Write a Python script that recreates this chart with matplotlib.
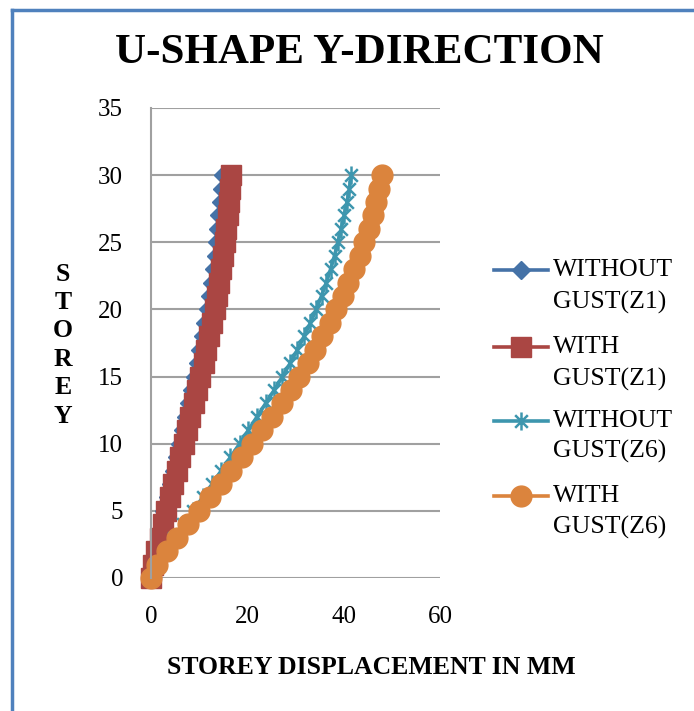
import matplotlib
matplotlib.use('Agg')
import matplotlib.pyplot as plt
from matplotlib.lines import Line2D
from matplotlib.path import Path
import numpy as np

# storey numbers and displacements (mm)
storey = list(range(0, 31))
without_gust_z1 = [0, 0.4, 1.0, 1.6, 2.2, 2.8, 3.5, 4.1, 4.7, 5.3, 6.0, 6.7, 7.3, 7.9, 8.5,
                   9.1, 9.7, 10.2, 10.8, 11.3, 11.8, 12.2, 12.6, 13.0, 13.4, 13.7, 14.0,
                   14.2, 14.5, 14.7, 14.9]
with_gust_z1 = [0, 0.5, 1.1, 1.8, 2.5, 3.2, 3.9, 4.6, 5.3, 6.0, 6.8, 7.5, 8.2, 8.9, 9.6,
                10.2, 10.9, 11.5, 12.1, 12.7, 13.2, 13.7, 14.2, 14.6, 15.0, 15.3, 15.6,
                15.9, 16.2, 16.4, 16.6]
without_gust_z6 = [0, 1.0, 2.9, 4.8, 6.7, 8.8, 10.7, 12.7, 14.6, 16.5, 18.4, 20.2, 22.0,
                   23.8, 25.6, 27.3, 28.9, 30.4, 31.8, 33.1, 34.3, 35.4, 36.4, 37.3, 38.1,
                   38.8, 39.5, 40.1, 40.7, 41.2, 41.6]
with_gust_z6 = [0, 1.2, 3.3, 5.5, 7.7, 10.0, 12.2, 14.5, 16.7, 18.9, 21.0, 23.1, 25.1,
                27.1, 29.0, 30.8, 32.5, 34.1, 35.6, 37.1, 38.5, 39.8, 41.0, 42.2, 43.3,
                44.3, 45.2, 46.0, 46.7, 47.3, 47.9]

labels = [('WITHOUT', 'GUST(Z1)'), ('WITH', 'GUST(Z1)'),
          ('WITHOUT', 'GUST(Z6)'), ('WITH', 'GUST(Z6)')]
colors = ['#4572A7', '#AA4643', '#3D96AE', '#DB843D']

# excel style star: X plus a vertical bar
star = Path([(-0.7, -0.7), (0.7, 0.7), (-0.7, 0.7), (0.7, -0.7), (0, -1), (0, 1)],
            [Path.MOVETO, Path.LINETO, Path.MOVETO, Path.LINETO, Path.MOVETO, Path.LINETO])
styles = [dict(marker='D', markersize=9.5),
          dict(marker='s', markersize=14.5),
          dict(marker=star, markersize=13, markerfacecolor='none', markeredgewidth=1.8),
          dict(marker='o', markersize=15)]

plt.rcParams['font.family'] = ['Liberation Serif', 'DejaVu Serif']

W, H = 694, 711
fig = plt.figure(figsize=(W / 100, H / 100), dpi=100)

# outer frame (left and top edges visible)
fig.add_artist(Line2D([12 / W, 12 / W], [0, 1 - 10 / H], color='#4F81BD', lw=2.5))
fig.add_artist(Line2D([12 / W, 1], [1 - 10 / H, 1 - 10 / H], color='#4F81BD', lw=2.5))

ax = fig.add_axes([151 / W, 1 - 578 / H, 289 / W, 470 / H])

series = [without_gust_z1, with_gust_z1, without_gust_z6, with_gust_z6]
for vals, c, st in zip(series, colors, styles):
    kw = dict(st)
    kw.setdefault('markerfacecolor', c)
    kw.setdefault('markeredgecolor', c)
    ax.plot(vals, storey, color=c, lw=2.6, clip_on=False, **kw)

ax.set_xlim(0, 60)
ax.set_ylim(0, 35)
ax.set_xticks([0, 20, 40, 60])
ax.set_yticks(range(0, 36, 5))
ax.yaxis.grid(True, color='#A0A0A0', lw=1.5)
ax.set_axisbelow(True)
for s in ['top', 'right', 'bottom']:
    ax.spines[s].set_visible(False)
ax.spines['left'].set_color('#A0A0A0')
ax.spines['left'].set_linewidth(1.5)
ax.tick_params(axis='both', length=0, labelsize=18)
ax.tick_params(axis='y', pad=20)
ax.tick_params(axis='x', pad=20)

fig.text(359 / W, 1 - 53 / H, 'U-SHAPE Y-DIRECTION', fontsize=31, fontweight='bold',
         ha='center', va='center')
fig.text(371 / W, 1 - 668 / H, 'STOREY DISPLACEMENT IN MM', fontsize=18.5,
         fontweight='bold', ha='center', va='center')
fig.text(63 / W, 1 - 345 / H, '\n'.join('STOREY'), fontsize=18.5, fontweight='bold',
         ha='center', va='center', linespacing=1.3)

# legend drawn by hand so the handle sits on the first label line
first = [270, 347, 421, 496]
second = [302, 379, 451, 527]
for (l1, l2), c, st, y1, y2 in zip(labels, colors, styles, first, second):
    kw = dict(st)
    kw.setdefault('markerfacecolor', c)
    kw.setdefault('markeredgecolor', c)
    fig.add_artist(Line2D([494 / W, 548 / W], [1 - y1 / H, 1 - y1 / H], color=c, lw=2.6))
    fig.add_artist(Line2D([521 / W], [1 - y1 / H], linestyle='none', **kw))
    fig.text(553 / W, 1 - y1 / H, l1, fontsize=18.5, va='center', ha='left')
    fig.text(553 / W, 1 - y2 / H, l2, fontsize=18.5, va='center', ha='left')

fig.savefig('out.png', dpi=100)
